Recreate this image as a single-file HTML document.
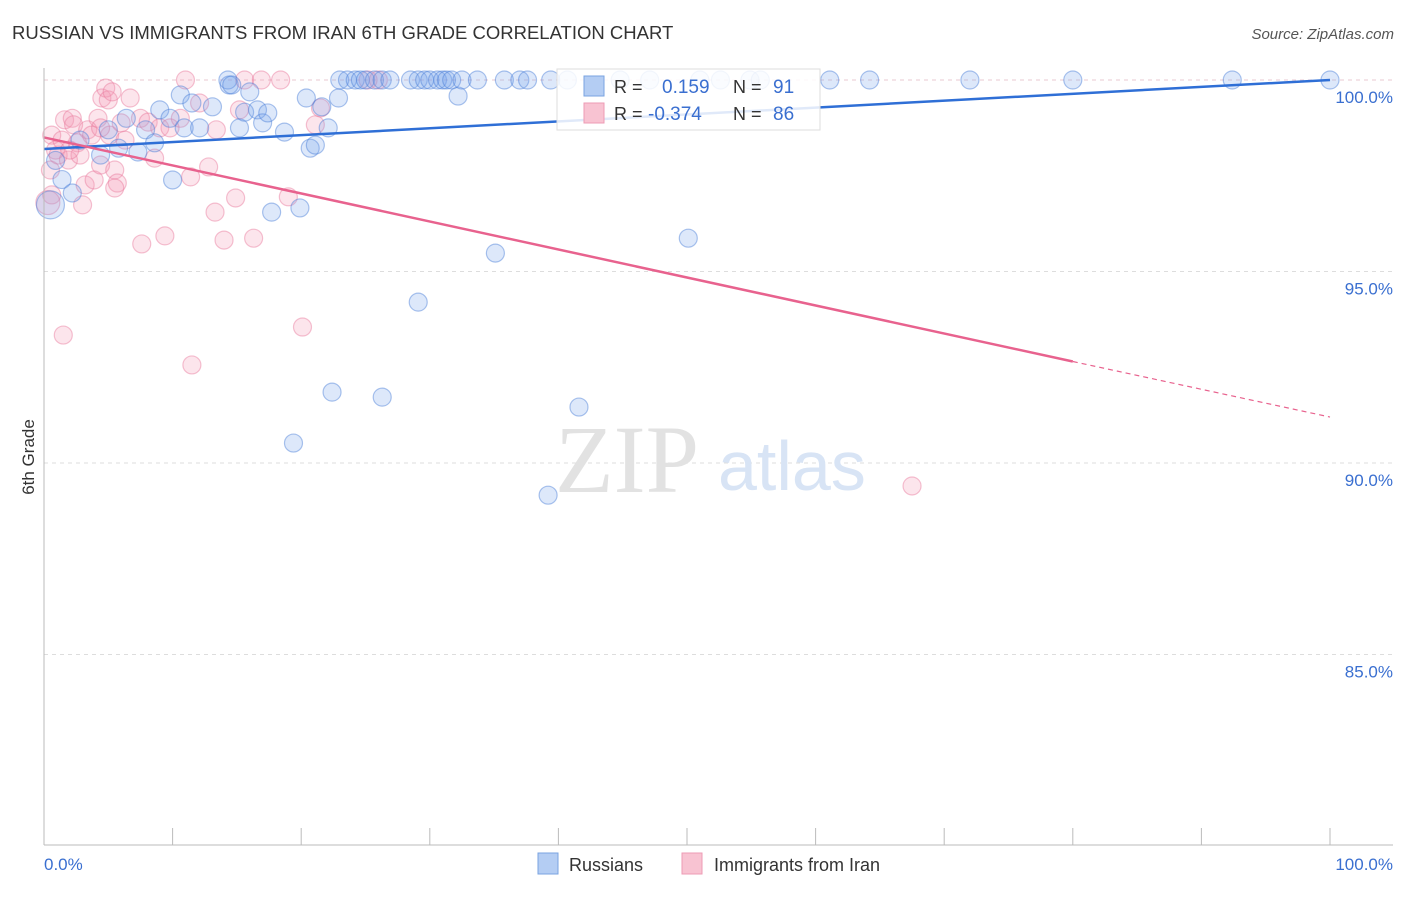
<!DOCTYPE html>
<html><head><meta charset="utf-8"><style>
body{margin:0;background:#fff;font-family:"Liberation Sans",sans-serif}
</style></head><body>
<svg width="1406" height="892" xmlns="http://www.w3.org/2000/svg" style="font-family:'Liberation Sans',sans-serif">
<text x="12" y="39" font-size="18.5" fill="#333">RUSSIAN VS IMMIGRANTS FROM IRAN 6TH GRADE CORRELATION CHART</text>
<text x="1394" y="39" font-size="15" font-style="italic" fill="#555" text-anchor="end">Source: ZipAtlas.com</text>
<g id="grid"></g>
<g>
<text x="555" y="492" font-size="96" font-family="'Liberation Serif',serif" fill="#e2e2e2">ZIP</text>
<text x="718" y="490" font-size="70" fill="#d8e4f5">atlas</text>
</g>
<g id="pts"></g>
<g id="lines"></g>
<line x1="44" y1="68" x2="44" y2="845" stroke="#bbb"/>
<line x1="44" y1="845" x2="1393" y2="845" stroke="#bbb"/>
<text x="44" y="870" font-size="17" fill="#3a6fd0">0.0%</text>
<text x="1393" y="870" font-size="17" fill="#3a6fd0" text-anchor="end">100.0%</text>
<text x="34" y="457" font-size="17" fill="#333" transform="rotate(-90 34 457)" text-anchor="middle">6th Grade</text>
<g>
<rect x="557" y="69" width="263" height="61" fill="#fff" fill-opacity="0.85" stroke="#ddd"/>
<rect x="584" y="76" width="20" height="20" fill="#b4cdf3" stroke="#7aa3e0"/>
<rect x="584" y="103" width="20" height="20" fill="#f8c3d2" stroke="#ee9bb4"/>
<text x="614" y="93" font-size="18" fill="#333">R =</text>
<text x="662" y="93" font-size="19" fill="#3a6fd0">0.159</text>
<text x="733" y="93" font-size="18" fill="#333">N =</text>
<text x="773" y="93" font-size="19" fill="#3a6fd0">91</text>
<text x="614" y="120" font-size="18" fill="#333">R =</text>
<text x="648" y="120" font-size="19" fill="#3a6fd0">-0.374</text>
<text x="733" y="120" font-size="18" fill="#333">N =</text>
<text x="773" y="120" font-size="19" fill="#3a6fd0">86</text>
</g>
<g>
<rect x="538" y="853" width="20" height="21" fill="#b4cdf3" stroke="#7aa3e0"/>
<text x="569" y="871" font-size="18" fill="#333">Russians</text></g>
<g>
<rect x="682" y="853" width="20" height="21" fill="#f8c3d2" stroke="#ee9bb4"/>
<text x="714" y="871" font-size="18" fill="#333">Immigrants from Iran</text></g>
</svg>
<script>
const yTicks=[100,95,90,85];
const xTicks=[0,10,20,30,40,50,60,70,80,90,100];
const blueX=[0.5,0.9,1.4,2.2,2.8,4.4,5.0,5.8,6.4,7.3,7.9,8.6,9.0,9.8,10.0,10.6,10.9,11.5,12.1,13.1,14.4,14.3,14.6,15.2,15.6,16.0,16.6,17.0,17.4,17.7,18.7,19.9,20.4,20.7,21.1,21.6,22.1,22.9,22.4,19.4,26.3,29.1,35.1,39.2,41.6,50.1,32.2,23.0,23.6,24.2,24.6,25.0,25.7,26.3,26.9,28.5,29.1,29.6,30.0,30.6,31.0,31.3,31.7,32.5,33.7,35.8,37.0,37.6,39.4,40.7,44.8,47.1,51.0,52.6,54.9,55.7,61.1,64.2,72.0,80.0,92.4,100];
const blueY=[96.74,97.9,97.4,97.05,98.43,98.04,98.7,98.22,99.0,98.12,98.7,98.36,99.22,99.0,97.39,99.61,98.75,99.4,98.75,99.3,99.87,100,99.87,98.75,99.16,99.69,99.22,98.88,99.14,96.55,98.64,96.66,99.53,98.22,98.3,99.3,98.75,99.53,91.85,90.52,91.72,94.2,95.48,89.16,91.46,95.87,99.58,100,100,100,100,100,100,100,100,100,100,100,100,100,100,100,100,100,100,100,100,100,100,100,100,100,100,100,100,100,100,100,100,100,100,100];
const pinkX=[0.6,0.9,0.5,0.6,1.1,1.4,1.6,1.9,2.2,2.3,2.6,2.8,3.0,3.2,3.4,3.7,3.9,4.2,4.4,4.5,4.8,5.0,5.1,5.3,5.5,5.7,5.5,6.0,6.7,7.5,7.6,8.1,8.6,9.0,9.4,9.8,10.6,11.0,11.4,11.5,12.1,12.8,13.4,13.3,14.0,14.9,15.2,15.6,16.3,16.9,18.4,19.0,20.1,21.1,21.5,25.2,26.0,1.5,67.5,4.4,6.3,2.0,0.3];
const pinkY=[98.56,98.17,97.65,97.0,98.04,98.43,98.96,97.91,99.0,98.83,98.36,98.04,96.74,97.26,98.7,98.56,97.39,99.0,97.78,99.53,99.79,99.48,98.56,99.69,97.65,97.31,97.18,98.88,99.53,99.0,95.72,98.9,97.96,98.75,95.93,98.75,99.0,100,97.47,92.56,99.4,97.73,98.7,96.55,95.82,96.92,99.22,100,95.87,100,100,96.95,93.55,98.83,99.27,100,100,93.34,89.4,98.75,98.43,98.17,96.8];
const blueLine=[[0,98.2],[100,100.0]];
const pinkLine=[[0,98.5],[80,92.65],[100,91.2]];
const sx=v=>44+v*12.86, sy=v=>80+(100-v)*38.3;
const NS='http://www.w3.org/2000/svg';
function mk(t,a,p){const e=document.createElementNS(NS,t);for(const k in a)e.setAttribute(k,a[k]);p.appendChild(e);return e;}
const grid=document.getElementById('grid');
yTicks.forEach(v=>{
 const l=mk('line',{x1:44,x2:1393,y1:sy(v),y2:sy(v),stroke:v===100?'#e8c8d0':'#ddd','stroke-dasharray':'4,4'},grid);
 
 
 const t=mk('text',{x:1393,y:sy(v)+23,'font-size':17,fill:'#3a6fd0','text-anchor':'end'},grid);
 t.textContent=v.toFixed(1)+'%';
 
 
});
xTicks.forEach(v=>{
 const l=mk('line',{x1:sx(v),x2:sx(v),y1:828,y2:845,stroke:'#bbb'},grid);
 
 
});
const pts=document.getElementById('pts');
pinkX.forEach((x,i)=>{
 const c=mk('circle',{cx:sx(x),cy:sy(pinkY[i]),r:i===pinkX.length-1?12:9,fill:'rgba(243,150,178,0.25)',stroke:'rgba(232,120,155,0.45)','stroke-width':1.2},pts);
 
 
});
blueX.forEach((x,i)=>{
 const c=mk('circle',{cx:sx(x),cy:sy(blueY[i]),r:i===0?14:9,fill:'rgba(120,165,235,0.25)',stroke:'rgba(70,125,215,0.45)','stroke-width':1.2},pts);
 
 
});
const lines=document.getElementById('lines');
let b=mk('line',{x1:sx(blueLine[0][0]),y1:sy(blueLine[0][1]),x2:sx(blueLine[1][0]),y2:sy(blueLine[1][1]),stroke:'#2f6fd6','stroke-width':2.5},lines);


let p=mk('line',{x1:sx(pinkLine[0][0]),y1:sy(pinkLine[0][1]),x2:sx(pinkLine[1][0]),y2:sy(pinkLine[1][1]),stroke:'#e8628e','stroke-width':2.5},lines);


let pd=mk('line',{x1:sx(pinkLine[1][0]),y1:sy(pinkLine[1][1]),x2:sx(pinkLine[2][0]),y2:sy(pinkLine[2][1]),stroke:'#e8628e','stroke-width':1.2,'stroke-dasharray':'5,4'},lines);


</script>
</body></html>
